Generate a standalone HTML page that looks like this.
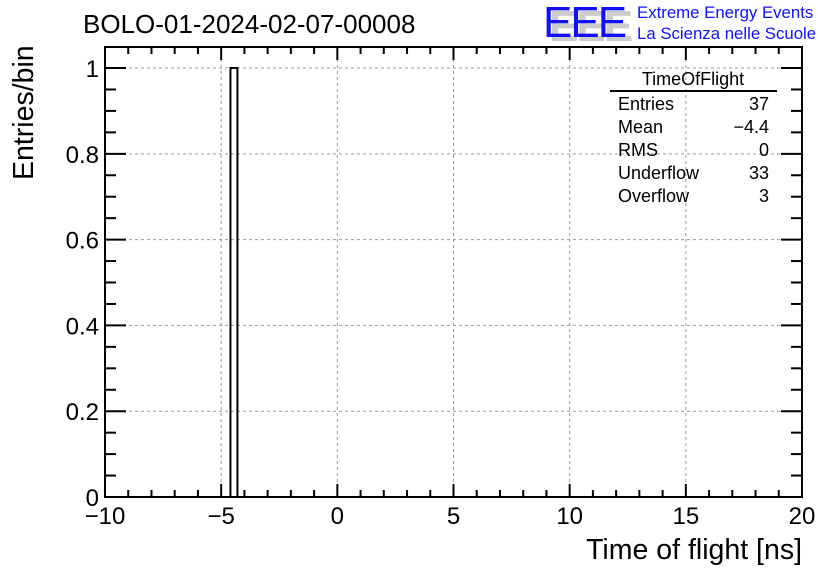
<!DOCTYPE html>
<html><head><meta charset="utf-8"><style>
body{margin:0;background:#fff;}
svg{display:block;font-family:"Liberation Sans",sans-serif;}
</style></head><body>
<svg id="c" width="836" height="572">
<rect width="836" height="572" fill="#fff"/>
<text x="83" y="33" font-size="26">BOLO-01-2024-02-07-00008</text>
<g>
<text x="549" y="41" font-size="44" fill="#ccc" font-weight="bold" letter-spacing="-2">EEE</text>
<text x="543" y="37" font-size="44" fill="#1010ff" letter-spacing="-2">EEE</text>
<text x="637" y="18" font-size="16.8" fill="#1010ff">Extreme Energy Events</text>
<text x="637" y="39" font-size="16.8" fill="#1010ff">La Scienza nelle Scuole</text>
</g>
<g id="grid"></g>
<g id="bars"></g>
<g id="axes"></g>
<text x="802" y="559" font-size="28.5" text-anchor="end">Time of flight [ns]</text>
<text transform="translate(33,180) rotate(-90)" font-size="28.5">Entries/bin</text>
<g font-size="18">
<text x="693" y="85" text-anchor="middle">TimeOfFlight</text>
<line x1="610" x2="777" y1="91" y2="91" stroke="#000" stroke-width="2"/>
<text x="618" y="110">Entries</text><text x="769" y="110" text-anchor="end">37</text>
<text x="618" y="133">Mean</text><text x="769" y="133" text-anchor="end">−4.4</text>
<text x="618" y="156">RMS</text><text x="769" y="156" text-anchor="end">0</text>
<text x="618" y="179">Underflow</text><text x="769" y="179" text-anchor="end">33</text>
<text x="618" y="202">Overflow</text><text x="769" y="202" text-anchor="end">3</text>
</g>
</svg>
<script>
const binEdgesLow=[-4.6];
const binWidth=[0.3];
const binCounts=[1];
const xTicks=[-10,-5,0,5,10,15,20];
const xTickLabels=["−10","−5","0","5","10","15","20"];
const yTicks=[0,0.2,0.4,0.6,0.8,1];
const yTickLabels=["0","0.2","0.4","0.6","0.8","1"];
const L=105,R=802,T=47,B=497,xmin=-10,xmax=20,ymax=1.049;
const X=v=>L+(v-xmin)/(xmax-xmin)*(R-L);
const Y=v=>B-v/ymax*(B-T);
const NS="http://www.w3.org/2000/svg";
function mk(p,tag,a){const e=document.createElementNS(NS,tag);for(const k in a)e.setAttribute(k,a[k]);p.appendChild(e);return e;}
const grid=document.getElementById('grid'),bars=document.getElementById('bars'),axes=document.getElementById('axes');
xTicks.forEach(v=>{if(v>xmin&&v<xmax){const l=mk(grid,'line',{x1:X(v),x2:X(v),y1:T,y2:B,stroke:'#999','stroke-dasharray':'3,3'});

}});
yTicks.forEach(v=>{if(v>0){const l=mk(grid,'line',{x1:L,x2:R,y1:Y(v),y2:Y(v),stroke:'#999','stroke-dasharray':'3,3'});

}});
binCounts.forEach((c,i)=>{const x0=X(binEdgesLow[i]),x1=X(binEdgesLow[i]+binWidth[i]);
const r=mk(bars,'path',{d:`M${x0},${B}V${Y(c)}H${x1}V${B}`,fill:'none',stroke:'#000','stroke-width':2});

});
const f=mk(axes,'rect',{x:L,y:T,width:R-L,height:B-T,fill:'none',stroke:'#000','stroke-width':2});


for(let v=xmin;v<=xmax;v+=1){const maj=v%5===0,len=maj?13:7;
mk(axes,'line',{x1:X(v),x2:X(v),y1:B,y2:B-len,stroke:'#000','stroke-width':2});
mk(axes,'line',{x1:X(v),x2:X(v),y1:T,y2:T+len,stroke:'#000','stroke-width':2});}
for(let k=0;k<=20;k++){const v=k*0.05,maj=k%4===0,len=maj?21:11;
mk(axes,'line',{x1:L,x2:L+len,y1:Y(v),y2:Y(v),stroke:'#000','stroke-width':2});
mk(axes,'line',{x1:R,x2:R-len,y1:Y(v),y2:Y(v),stroke:'#000','stroke-width':2});}
xTicks.forEach((v,i)=>{const t=mk(axes,'text',{x:X(v),y:B+27,'font-size':24,'text-anchor':'middle'});t.textContent=xTickLabels[i];

});
yTicks.forEach((v,i)=>{const t=mk(axes,'text',{x:L-6,y:Y(v)+9,'font-size':24,'text-anchor':'end'});t.textContent=yTickLabels[i];

});
</script>
</body></html>
